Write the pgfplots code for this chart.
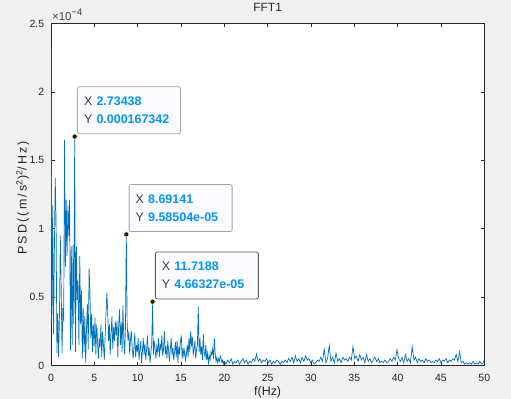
\documentclass[border=0pt]{standalone}
\usepackage{pgfplots}
\pgfplotsset{compat=1.18}
\usepackage{pgfplotstable}
\usepackage{fontspec}
\setmainfont{Liberation Sans}
\newfontfamily\ylabfont[LetterSpace=18]{Liberation Sans}
\definecolor{figbg}{HTML}{F0F0F0}
\definecolor{axc}{HTML}{262626}
\definecolor{mblue}{HTML}{0072BD}
\definecolor{tipv}{HTML}{0096FF}
\definecolor{tipl}{HTML}{404040}
\definecolor{tipfill}{HTML}{FAFAFF}
\definecolor{tipb}{HTML}{A6A6A6}
\definecolor{tipbb}{HTML}{595959}

% PSD in units of 1e-4 (m/s^2)^2/Hz
\pgfplotstableread{
f p
0.000 2.33
0.098 0.32
0.195 1.17
0.293 0.23
0.391 0.85
0.488 1.37
0.586 1.05
0.684 0.09
0.781 0.38
0.879 0.06
0.977 0.37
1.074 0.95
1.172 0.60
1.270 0.09
1.367 0.42
1.465 0.32
1.563 1.65
1.660 0.72
1.758 1.21
1.855 0.80
1.953 1.17
2.051 0.95
2.148 1.21
2.246 0.11
2.344 0.87
2.441 0.15
2.539 0.88
2.637 0.30
2.734 1.67342
2.832 0.10
2.930 0.87
3.027 0.48
3.125 0.62
3.223 0.15
3.320 0.80
3.418 0.30
3.516 0.55
3.613 0.05
3.711 0.42
3.809 0.10
3.906 0.36
4.004 0.02
4.102 0.28
4.199 0.45
4.297 0.12
4.395 0.71
4.492 0.55
4.590 0.20
4.688 0.38
4.785 0.10
4.883 0.30
4.980 0.14
5.078 0.35
5.176 0.08
5.273 0.30
5.371 0.18
5.469 0.05
5.566 0.20
5.664 0.13
5.762 0.30
5.859 0.06
5.957 0.25
6.055 0.15
6.152 0.04
6.250 0.22
6.348 0.38
6.445 0.53
6.543 0.40
6.641 0.18
6.738 0.30
6.836 0.08
6.934 0.24
7.031 0.36
7.129 0.12
7.227 0.28
7.324 0.18
7.422 0.32
7.520 0.22
7.617 0.33
7.715 0.06
7.813 0.30
7.910 0.41
8.008 0.15
8.105 0.32
8.203 0.10
8.301 0.44
8.398 0.20
8.496 0.08
8.594 0.28
8.691 0.958504
8.789 0.30
8.887 0.18
8.984 0.25
9.082 0.08
9.180 0.20
9.277 0.25
9.375 0.12
9.473 0.05
9.570 0.14
9.668 0.24
9.766 0.06
9.863 0.15
9.961 0.10
10.059 0.20
10.156 0.04
10.254 0.12
10.352 0.18
10.449 0.02
10.547 0.10
10.645 0.20
10.742 0.08
10.840 0.16
10.938 0.04
11.035 0.12
11.133 0.22
11.230 0.07
11.328 0.13
11.426 0.02
11.523 0.09
11.621 0.15
11.719 0.466327
11.816 0.08
11.914 0.18
12.012 0.12
12.109 0.05
12.207 0.14
12.305 0.10
12.402 0.20
12.500 0.06
12.598 0.16
12.695 0.11
12.793 0.22
12.891 0.07
12.988 0.12
13.086 0.25
13.184 0.08
13.281 0.14
13.379 0.05
13.477 0.18
13.574 0.10
13.672 0.03
13.770 0.12
13.867 0.20
13.965 0.08
14.063 0.13
14.160 0.04
14.258 0.10
14.355 0.17
14.453 0.06
14.551 0.18
14.648 0.02
14.746 0.14
14.844 0.08
14.941 0.18
15.039 0.22
15.137 0.05
15.234 0.13
15.332 0.07
15.430 0.11
15.527 0.04
15.625 0.08
15.723 0.15
15.820 0.06
15.918 0.20
16.016 0.10
16.113 0.25
16.211 0.14
16.309 0.21
16.406 0.08
16.504 0.12
16.602 0.18
16.699 0.05
16.797 0.12
16.895 0.15
16.992 0.43
17.090 0.10
17.188 0.20
17.285 0.08
17.383 0.14
17.480 0.04
17.578 0.23
17.676 0.10
17.773 0.06
17.871 0.15
17.969 0.04
18.066 0.09
18.164 0.02
18.262 0.07
18.359 0.04
18.457 0.10
18.555 0.08
18.652 0.12
18.750 0.05
18.848 0.20
18.945 0.09
19.043 0.03
19.141 0.06
19.238 0.02
19.336 0.05
19.434 0.03
19.531 0.07
19.629 0.05
19.727 0.02
19.824 0.04
19.922 0.01
20.00 0.03
20.20 0.01
20.39 0.04
20.59 0.02
20.78 0.05
20.98 0.01
21.17 0.03
21.37 0.02
21.56 0.04
21.76 0.01
21.95 0.03
22.15 0.05
22.34 0.02
22.54 0.04
22.73 0.01
22.93 0.03
23.12 0.02
23.32 0.05
23.52 0.03
23.71 0.085
23.91 0.03
24.10 0.05
24.30 0.02
24.49 0.04
24.69 0.03
24.88 0.05
25.08 0.02
25.27 0.04
25.47 0.01
25.66 0.03
25.86 0.02
26.05 0.04
26.25 0.03
26.45 0.01
26.64 0.03
26.84 0.02
27.03 0.04
27.23 0.02
27.42 0.05
27.62 0.03
27.81 0.06
28.01 0.02
28.20 0.07
28.40 0.03
28.59 0.05
28.79 0.02
28.98 0.06
29.18 0.03
29.38 0.07
29.57 0.04
29.77 0.05
29.96 0.02
30.16 0.04
30.35 0.01
30.55 0.02
30.74 0.04
30.94 0.03
31.13 0.06
31.33 0.03
31.52 0.12
31.72 0.02
31.91 0.05
32.11 0.145
32.30 0.03
32.50 0.06
32.70 0.02
32.89 0.09
33.09 0.03
33.28 0.05
33.48 0.02
33.67 0.06
33.87 0.04
34.06 0.05
34.26 0.03
34.45 0.06
34.65 0.04
34.84 0.137
35.04 0.05
35.23 0.07
35.43 0.03
35.63 0.08
35.82 0.04
36.02 0.06
36.21 0.02
36.41 0.08
36.60 0.03
36.80 0.05
36.99 0.02
37.19 0.04
37.38 0.06
37.58 0.03
37.77 0.05
37.97 0.02
38.16 0.03
38.36 0.02
38.55 0.04
38.75 0.02
38.95 0.03
39.14 0.05
39.34 0.03
39.53 0.06
39.73 0.04
39.92 0.115
40.12 0.05
40.31 0.03
40.51 0.06
40.70 0.02
40.90 0.08
41.09 0.03
41.29 0.05
41.48 0.02
41.68 0.137
41.88 0.04
42.07 0.06
42.27 0.02
42.46 0.05
42.66 0.03
42.85 0.04
43.05 0.02
43.24 0.05
43.44 0.03
43.63 0.04
43.83 0.02
44.02 0.03
44.22 0.02
44.41 0.04
44.61 0.03
44.80 0.05
45.00 0.02
45.20 0.04
45.39 0.03
45.59 0.05
45.78 0.02
45.98 0.04
46.17 0.03
46.37 0.05
46.56 0.04
46.76 0.08
46.95 0.03
47.15 0.10
47.34 0.02
47.54 0.03
47.73 0.01
47.93 0.02
48.13 0.01
48.32 0.02
48.52 0.01
48.71 0.03
48.91 0.01
49.10 0.02
49.30 0.01
49.49 0.03
49.69 0.01
49.88 0.02
50.00 0.045
}\psd

\tikzset{tip/.style={draw=tipb, fill=tipfill, rounded corners=2bp, line width=0.8bp,
  anchor=south west, xshift=2.4bp, yshift=2.4bp, text width=89.8bp, inner xsep=6.6bp,
  minimum height=47bp, align=left, font=\fontsize{12.5}{17.7}\selectfont}}
\newcommand{\tiptext}[2]{{\color{tipl}X} {\color{tipv}\bfseries #1}\\{\color{tipl}Y} {\color{tipv}\bfseries #2}}

\begin{document}
\begin{tikzpicture}
\fill[figbg] (0,0) rectangle (511bp,399bp);
\begin{axis}[
  at={(51bp,33.5bp)}, anchor=south west,
  scale only axis, width=433.3bp, height=342bp,
  xmin=0, xmax=50, ymin=0, ymax=2.5,
  clip mode=individual,
  axis background/.style={fill=white},
  axis line style={axc, line width=0.6bp},
  tick align=inside, xtick pos=both, ytick pos=both,
  major tick length=3.5bp,
  every tick/.style={axc, line width=0.6bp},
  xtick={0,5,10,15,20,25,30,35,40,45,50},
  xticklabels={0,5,10,15,20,25,30,35,40,45,50},
  ytick={0,0.5,1,1.5,2,2.5},
  yticklabels={0,0.5,1,1.5,2,2.5},
  tick label style={font=\fontsize{10.5}{12}\selectfont, text=axc},
  xticklabel style={yshift=-5bp},
  yticklabel style={xshift=-3.4bp},
  title={FFT1},
  every axis title/.style={at={(axis description cs:0.5,1.0348)}, anchor=base, font=\fontsize{12}{14}\selectfont, text=axc},
  xlabel={f(Hz)},
  every axis x label/.style={at={(axis description cs:0.5,-0.0863)}, anchor=base, font=\fontsize{12.5}{14}\selectfont, text=axc},
  ylabel={PSD((m/s\textsuperscript{2})\textsuperscript{2}/Hz)},
  every axis y label/.style={at={(axis description cs:-0.0561,0.49)}, rotate=90, anchor=base, font=\ylabfont\fontsize{12.5}{14}\selectfont, text=axc},
]
\addplot[mblue, line width=0.7bp] table {\psd};
\addplot[only marks, mark=*, mark size=2.6bp, mark options={fill=black!90, draw=yellow!35!white, line width=0.6bp}]
  coordinates {(2.73438,1.67342) (8.69141,0.958504) (11.7188,0.466327)};
\node[tip] at (axis cs:2.73438,1.67342) {\tiptext{2.73438}{0.000167342}};
\node[tip] at (axis cs:8.69141,0.958504) {\tiptext{8.69141}{9.58504e-05}};
\node[tip, draw=tipbb] at (axis cs:11.7188,0.466327) {\tiptext{11.7188}{4.66327e-05}};
\node[anchor=base west, inner sep=0pt, text=tipl, font=\fontsize{11.5}{12}\selectfont] at (axis description cs:0.002,1.0082) {×10\raisebox{5bp}{\fontsize{9.5}{10}\selectfont −4}};
\end{axis}
\pgfresetboundingbox
\useasboundingbox (0,0) rectangle (511bp,399bp);
\end{tikzpicture}
\end{document}
